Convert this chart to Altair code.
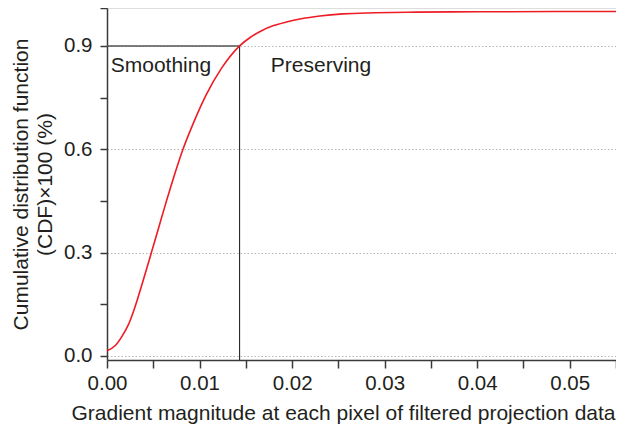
import altair as alt
import pandas as pd

# CDF curve
grad = [0.0, 0.0009, 0.0016, 0.0023, 0.0030, 0.0039, 0.0048, 0.0057, 0.0062,
        0.0071, 0.00816, 0.0094, 0.0107, 0.0124, 0.01433, 0.0155,
        0.0167, 0.0180, 0.0195, 0.0210, 0.0230, 0.0255, 0.0290, 0.0335,
        0.0400, 0.0550]
cdf = [0.015, 0.030, 0.056, 0.090, 0.140, 0.218, 0.300, 0.383, 0.429,
       0.509, 0.596, 0.680, 0.757, 0.836, 0.900, 0.925,
       0.944, 0.959, 0.970, 0.979, 0.987, 0.993, 0.996, 0.998,
       0.999, 1.0]

threshold_x = 0.01433
threshold_y = 0.9

x_domain = [0.0, 0.055]
y_domain = [-0.012, 1.01]
x_ticks = [0.0, 0.005, 0.01, 0.015, 0.02, 0.025, 0.03, 0.035, 0.04, 0.045, 0.05, 0.055]
y_ticks = [0.0, 0.15, 0.3, 0.45, 0.6, 0.75, 0.9, 1.01]

labels = ["Smoothing", "Preserving"]
label_x = [0.0004, 0.0177]
label_y = [0.823, 0.823]

FONT = "Liberation Sans"
TXT = "#231f20"
AX = "#3a3a3a"

curve_df = pd.DataFrame({"g": grad, "c": cdf})
hline_df = pd.DataFrame({"x": [x_domain[0]], "x2": [threshold_x], "y": [threshold_y]})
vline_df = pd.DataFrame({"x": [threshold_x], "y": [y_domain[0]], "y2": [threshold_y]})
text_df = pd.DataFrame({"t": labels, "x": label_x, "y": label_y})

xscale = alt.Scale(domain=x_domain, nice=False, zero=False)
yscale = alt.Scale(domain=y_domain, nice=False, zero=False)

x_axis = alt.Axis(
    values=x_ticks,
    labelExpr="round(datum.value*1000) % 10 == 0 ? format(datum.value, '.2f') : ''",
    grid=False,
    tickSize=8, tickColor=AX, tickWidth=1.5,
    domainColor=AX, domainWidth=1.5,
    labelFont=FONT, labelFontSize=20.5, labelColor=TXT, labelPadding=5,
    labelFlush=False, labelOverlap=False,
    title="Gradient magnitude at each pixel of filtered projection data",
    titleFont=FONT, titleFontSize=21, titleFontWeight="normal", titleColor=TXT,
    titlePadding=9, titleX=236, titleAlign="center",
)

y_axis = alt.Axis(
    values=y_ticks,
    labelExpr="(round(datum.value*100) % 30 == 0 && datum.value < 1) ? format(datum.value, '.1f') : ''",
    grid=True,
    gridColor="#b5b5b5", gridDash=[1.5, 2], gridWidth=1,
    gridOpacity={"condition": {"test": "round(datum.value*100) % 30 == 0 && datum.value < 1", "value": 1}, "value": 0},
    tickSize=7, tickColor=AX, tickWidth=1.5,
    domainColor=AX, domainWidth=1.5,
    labelFont=FONT, labelFontSize=20.5, labelColor=TXT, labelPadding=8,
    labelFlush=False, labelOverlap=False,
    title=["Cumulative distribution function", "(CDF)\u00d7100 (%)"],
    titleFont=FONT, titleFontSize=21, titleFontWeight="normal", titleColor=TXT,
    titleLineHeight=24, titlePadding=8,
)

curve = alt.Chart(curve_df).mark_line(
    color="#ee1c25", strokeWidth=1.6, interpolate="monotone"
).encode(
    x=alt.X("g:Q", scale=xscale, axis=x_axis),
    y=alt.Y("c:Q", scale=yscale, axis=y_axis),
)

hline = alt.Chart(hline_df).mark_rule(color="#555555", strokeWidth=1.5).encode(
    x="x:Q", x2="x2:Q", y="y:Q"
)
vline = alt.Chart(vline_df).mark_rule(color="#111111", strokeWidth=1).encode(
    x="x:Q", y="y:Q", y2="y2:Q"
)
texts = alt.Chart(text_df).mark_text(
    align="left", baseline="alphabetic", font=FONT, fontSize=21, color=TXT
).encode(x="x:Q", y="y:Q", text="t:N")

# total canvas width 99 + 509 + 0 = 608 (fits the 624px window minus margins)
chart = alt.layer(hline, vline, curve, texts).properties(
    width=509, height=352,
    autosize=alt.AutoSizeParams(type="none"),
    padding={"left": 99, "top": 0, "right": 0, "bottom": 68},
).configure_view(stroke=None).configure(background="white")

chart.save("out.html", embed_options={"renderer": "svg", "actions": False})
